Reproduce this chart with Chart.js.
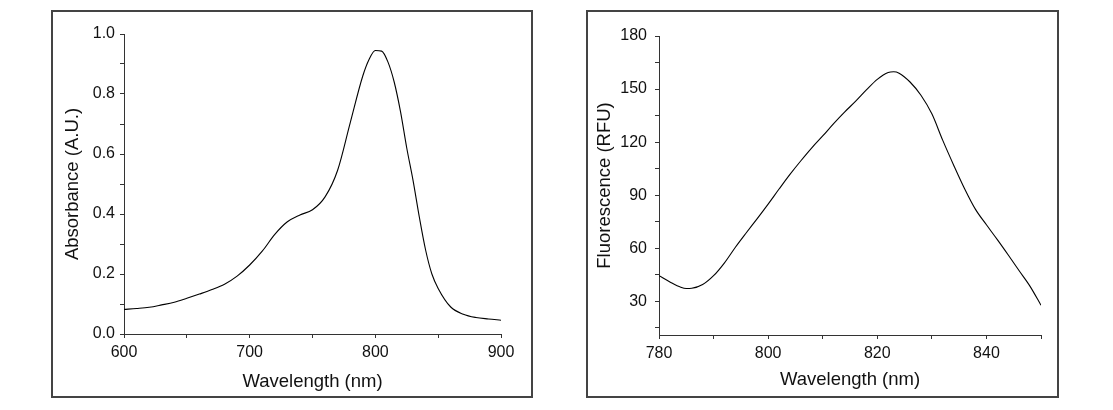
<!DOCTYPE html>
<html>
<head>
<meta charset="utf-8">
<script src="https://cdn.jsdelivr.net/npm/chart.js@4.4.0/dist/chart.umd.min.js"></script>
<style>
    body { margin: 0; background: #fff; width: 1113px; height: 410px; position: relative; overflow: hidden; }
    .frame { position: absolute; border: 2px solid #444; box-sizing: border-box; }
    canvas { position: absolute; }
</style>
</head>
<body>
<div class="frame" style="left:51px; top:10px; width:482px; height:388px;"></div>
<div class="frame" style="left:586px; top:10px; width:473px; height:388px;"></div>
<canvas id="absChart" width="480" height="386" style="left:52px; top:11px;"></canvas>
<canvas id="fluoChart" width="471" height="386" style="left:587px; top:11px;"></canvas>
<script>
// absorbance spectrum (left)
const absWavelength = [600, 610, 620, 630, 640, 650, 660, 670, 680, 690, 700, 710, 720, 730, 740, 750, 760, 770, 780, 790, 795, 800, 805, 810, 815, 820, 825, 830, 835, 840, 845, 850, 860, 870, 880, 890, 900];
const absValues = [0.082, 0.085, 0.089, 0.097, 0.106, 0.119, 0.133, 0.148, 0.166, 0.193, 0.230, 0.276, 0.332, 0.374, 0.397, 0.414, 0.457, 0.546, 0.704, 0.860, 0.915, 0.945, 0.943, 0.907, 0.84, 0.742, 0.62, 0.512, 0.39, 0.28, 0.2, 0.152, 0.09, 0.066, 0.055, 0.05, 0.046];

// fluorescence spectrum (right)
const fluoWavelength = [780, 782, 784, 785, 786, 788, 790, 792, 794, 796, 798, 800, 802, 804, 806, 808, 810, 812, 814, 816, 818, 820, 822, 823, 824, 826, 828, 830, 832, 834, 836, 838, 840, 842, 844, 846, 848, 850];
const fluoValues = [44.5, 41, 38, 37.3, 37.4, 39.5, 44.5, 51.8, 60.6, 68.8, 76.8, 85, 93.5, 101.8, 109.5, 116.8, 123.5, 130.5, 137, 143, 149.5, 155.5, 159.4, 159.8, 159, 154, 146.5, 136, 121, 107, 93.7, 82, 73.3, 64.9, 56.2, 47.3, 38.5, 27.8];

const axisColor = '#333';
const textColor = '#111';
const fontFamily = '"Liberation Sans", Arial, sans-serif';

function toPoints(xs, ys) {
    return xs.map((x, i) => ({ x: x, y: ys[i] }));
}

function buildScale(opts) {
    return {
        type: 'linear',
        min: opts.min,
        max: opts.max,
        afterFit: opts.afterFit,
        border: { display: true, color: axisColor, width: 1 },
        grid: { drawOnChartArea: false, drawTicks: true, tickLength: 4, tickColor: axisColor },
        ticks: {
            stepSize: opts.step,
            includeBounds: false,
            autoSkip: false,
            maxRotation: 0,
            padding: opts.pad,
            color: textColor,
            font: { family: fontFamily, size: 16 },
            callback: opts.label
        },
        title: {
            display: true,
            text: opts.title,
            color: textColor,
            font: { family: fontFamily, size: 18.5 },
            padding: opts.titlePad
        }
    };
}

function drawSpectrum(id, data, scales, padding) {
    const ctx = document.getElementById(id).getContext('2d');
    return new Chart(ctx, {
        type: 'line',
        data: {
            datasets: [{
                data: data,
                borderColor: '#000',
                borderWidth: 1.1,
                pointRadius: 0,
                fill: false,
                cubicInterpolationMode: 'monotone'
            }]
        },
        options: {
            responsive: false,
            animation: false,
            layout: { padding: padding },
            plugins: { legend: { display: false }, tooltip: { enabled: false } },
            scales: scales
        }
    });
}

drawSpectrum('absChart', toPoints(absWavelength, absValues), {
    x: buildScale({
        min: 600, max: 900, step: 50, pad: 5,
        title: 'Wavelength (nm)', titlePad: { top: 0, bottom: 4.2 },
        afterFit: s => { s.height = 63; },
        label: v => (v % 100 === 0 ? String(v) : '')
    }),
    y: buildScale({
        min: 0, max: 1.0, step: 0.1, pad: 5,
        title: 'Absorbance (A.U.)', titlePad: { top: 9.6, bottom: 0 },
        afterFit: s => { s.width = 72; },
        label: v => (Math.abs(v * 5 - Math.round(v * 5)) < 1e-6 ? v.toFixed(1) : '')
    })
}, { top: 23, right: 31, left: 0, bottom: 0 });

drawSpectrum('fluoChart', toPoints(fluoWavelength, fluoValues), {
    x: buildScale({
        min: 780, max: 850, step: 10, pad: 5,
        title: 'Wavelength (nm)', titlePad: { top: 0, bottom: 5.9 },
        afterFit: s => { s.height = 62; },
        label: v => (v % 20 === 0 ? String(v) : '')
    }),
    y: buildScale({
        min: 11, max: 180, step: 15, pad: 8,
        title: 'Fluorescence (RFU)', titlePad: { top: 6.6, bottom: 0 },
        afterFit: s => { s.width = 72; },
        label: v => (v % 30 === 0 ? String(v) : '')
    })
}, { top: 25, right: 17, left: 0, bottom: 0 });
</script>
</body>
</html>
